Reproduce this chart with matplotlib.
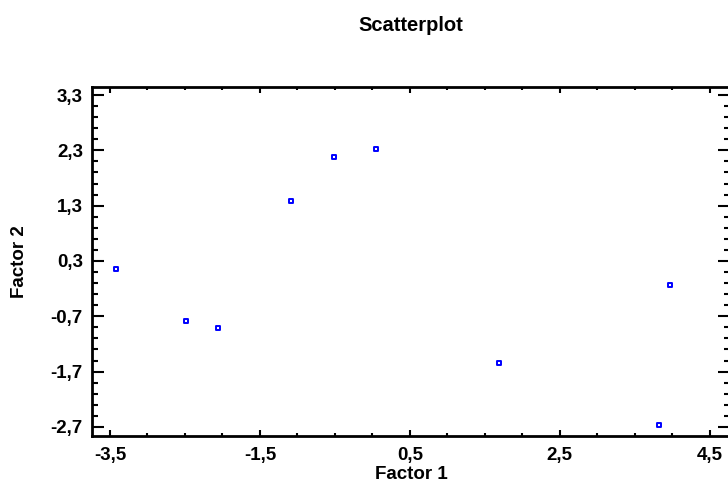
import matplotlib
matplotlib.use("Agg")
import matplotlib.pyplot as plt
from matplotlib.ticker import FixedLocator, MultipleLocator, FuncFormatter

plt.rcParams['font.family'] = ['Liberation Sans', 'DejaVu Sans']
plt.rcParams['font.weight'] = 'bold'

factor1 = [-3.42, -2.49, -2.06, -1.09, -0.51, 0.05, 1.69, 3.82, 3.97]
factor2 = [0.15, -0.79, -0.91, 1.38, 2.18, 2.32, -1.55, -2.67, -0.14]
xticks = [-3.5, -1.5, 0.5, 2.5, 4.5]
yticks = [-2.7, -1.7, -0.7, 0.3, 1.3, 2.3, 3.3]

W, H = 728, 486
fig = plt.figure(figsize=(W/100, H/100), dpi=100)
L, R, T, B = 92, 730, 87, 436
ax = fig.add_axes([L/W, 1-B/H, (R-L)/W, (B-T)/H])

ax.scatter(factor1, factor2, marker='s', s=10.5, facecolors='white',
           edgecolors='#0000ff', linewidths=1.4, zorder=3)

ax.set_xlim(-3.74, 4.77)
ax.set_ylim(-2.865, 3.445)
ax.xaxis.set_major_locator(FixedLocator(xticks))
ax.yaxis.set_major_locator(FixedLocator(yticks))
ax.xaxis.set_minor_locator(MultipleLocator(0.5))
ax.yaxis.set_minor_locator(FixedLocator([-2.9 + 0.2*i for i in range(33)]))
fmt = FuncFormatter(lambda v, p: f"{v:.1f}".replace('.', ','))
ax.xaxis.set_major_formatter(fmt)
ax.yaxis.set_major_formatter(fmt)

ax.tick_params(which='both', direction='in', top=True, right=True, width=1.5)
ax.tick_params(axis='both', which='major', labelsize=13.5)
ax.tick_params(axis='x', which='major', length=4.3, pad=8)
ax.tick_params(axis='x', which='minor', length=2.2)
ax.tick_params(axis='y', which='major', length=8.6, pad=6.5)
ax.tick_params(axis='y', which='minor', length=4.3)
for s in ax.spines.values():
    s.set_linewidth(2)

cx = (L + min(R, W)) / 2 / W
fig.text((L + R) / 2 / W, 1 - 31/H, 'Scatterplot', ha='center', va='baseline',
         fontsize=14.5, fontweight='bold')
fig.text((L + R) / 2 / W, 1 - 479/H, 'Factor 1', ha='center', va='baseline',
         fontsize=13.5, fontweight='bold')
fig.text(19/W, 1 - (T + B) / 2 / H, 'Factor 2', ha='center', va='center',
         rotation=90, fontsize=13.5, fontweight='bold')

fig.savefig('out.png', dpi=100)
